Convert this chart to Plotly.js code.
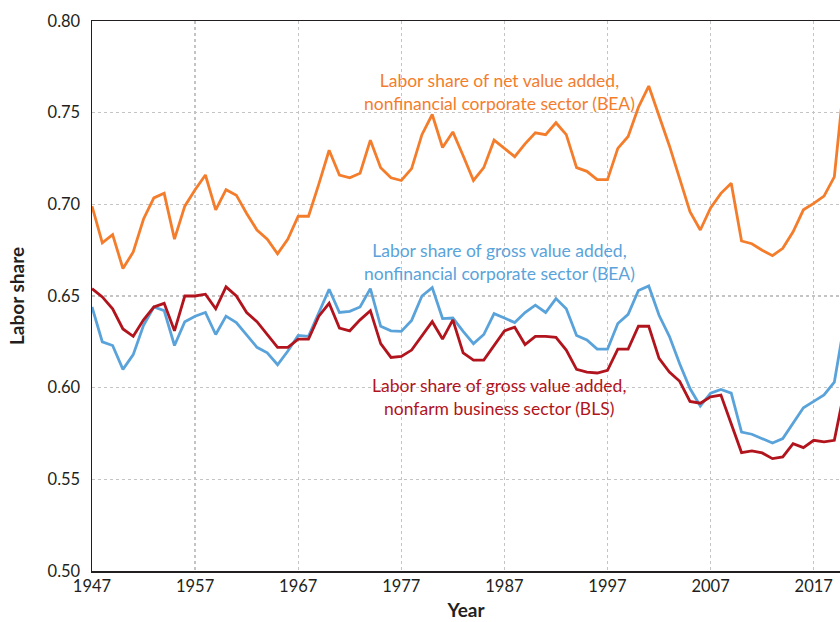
<!DOCTYPE html>
<html>
<head>
<meta charset="utf-8">
<script src="https://cdn.plot.ly/plotly-3.0.1.min.js"></script>
<style>html,body{margin:0;padding:0;background:#fff;}#chart{width:840px;height:622px;}</style>
</head>
<body>
<div id="chart"></div>
<script>
const startYear = 1947;
const endYear = 2020;
const years = [];
for (let y = startYear; y <= endYear; y++) years.push(y);

const netBEA = [
  0.699, 0.679, 0.6835, 0.665, 0.674, 0.692, 0.7035, 0.706, 0.681, 0.699,
  0.708, 0.716, 0.697, 0.708, 0.705, 0.695, 0.686, 0.681, 0.673, 0.681,
  0.6935, 0.6935, 0.711, 0.7295, 0.716, 0.7145, 0.717, 0.735, 0.720, 0.7145,
  0.713, 0.7195, 0.738, 0.749, 0.731, 0.7395, 0.7265, 0.713, 0.720, 0.735,
  0.7305, 0.726, 0.733, 0.739, 0.738, 0.7445, 0.738, 0.720, 0.718, 0.7135,
  0.7135, 0.7305, 0.737, 0.753, 0.7645, 0.7485, 0.732, 0.714, 0.696, 0.686,
  0.698, 0.706, 0.7115, 0.680, 0.6785, 0.675, 0.672, 0.676, 0.685, 0.697,
  0.7005, 0.7045, 0.715, 0.770
];

const grossBEA = [
  0.644, 0.625, 0.623, 0.610, 0.618, 0.634, 0.644, 0.642, 0.623, 0.636,
  0.639, 0.641, 0.629, 0.639, 0.6355, 0.629, 0.622, 0.619, 0.6125, 0.620,
  0.6285, 0.628, 0.641, 0.6537, 0.641, 0.6416, 0.644, 0.654, 0.6335, 0.631,
  0.6307, 0.6367, 0.650, 0.6546, 0.6377, 0.638, 0.6307, 0.624, 0.629, 0.6404,
  0.638, 0.6355, 0.641, 0.645, 0.641, 0.6486, 0.643, 0.6285, 0.626, 0.621,
  0.621, 0.635, 0.640, 0.653, 0.6555, 0.6395, 0.628, 0.613, 0.5995, 0.590,
  0.597, 0.599, 0.597, 0.5758, 0.5746, 0.5722, 0.5698, 0.5722, 0.5804, 0.589,
  0.5925, 0.596, 0.603, 0.636
];

const grossBLS = [
  0.654, 0.6495, 0.643, 0.632, 0.628, 0.637, 0.644, 0.646, 0.631, 0.650,
  0.650, 0.651, 0.643, 0.655, 0.650, 0.641, 0.636, 0.629, 0.622, 0.622,
  0.6265, 0.6265, 0.639, 0.646, 0.6325, 0.631, 0.637, 0.642, 0.624, 0.6165,
  0.617, 0.6205, 0.6285, 0.636, 0.6265, 0.637, 0.619, 0.615, 0.615, 0.623,
  0.631, 0.633, 0.6235, 0.628, 0.628, 0.6275, 0.6205, 0.610, 0.6085, 0.608,
  0.6095, 0.621, 0.621, 0.6335, 0.6335, 0.616, 0.6085, 0.6035, 0.5925, 0.5915,
  0.595, 0.596, 0.580, 0.5646, 0.5655, 0.5644, 0.5613, 0.5622, 0.5695, 0.5673,
  0.5713, 0.5704, 0.5713, 0.599
];

const xTickVals = [1947, 1957, 1967, 1977, 1987, 1997, 2007, 2017];
const yTickVals = [0.50, 0.55, 0.60, 0.65, 0.70, 0.75, 0.80];

const labelNet = "Labor share of net value added,<br>nonfinancial corporate sector (BEA)";
const labelGrossBEA = "Labor share of gross value added,<br>nonfinancial corporate sector (BEA)";
const labelGrossBLS = "Labor share of gross value added,<br>nonfarm business sector (BLS)";

const cOrange = "#f47d2c";
const cBlue = "#5aa3da";
const cRed = "#b1141c";
const FONT = "Lato, 'Open Sans', sans-serif";

const traces = [
  {x: years, y: grossBEA, type: "scatter", mode: "lines", line: {color: cBlue, width: 2.8}, hoverinfo: "skip"},
  {x: years, y: grossBLS, type: "scatter", mode: "lines", line: {color: cRed, width: 2.8}, hoverinfo: "skip"},
  {x: years, y: netBEA, type: "scatter", mode: "lines", line: {color: cOrange, width: 2.8}, hoverinfo: "skip"}
];

function label(text, yMid, color) {
  return {
    text: text, x: 1986.5, y: yMid, xref: "x", yref: "y",
    showarrow: false, xanchor: "center", yanchor: "middle", align: "center",
    font: {family: FONT, size: 17.5, color: color}
  };
}

const layout = {
  width: 840, height: 622,
  margin: {l: 92, r: 0, t: 21, b: 51},
  paper_bgcolor: "#fff", plot_bgcolor: "#fff",
  showlegend: false,
  font: {family: FONT, size: 16, color: "#231f20"},
  xaxis: {
    range: [1947, 2019.55],
    tickvals: xTickVals,
    ticktext: xTickVals.map(String),
    showgrid: true, gridcolor: "#c4c4c4", griddash: "dot", gridwidth: 1.3,
    showline: true, linecolor: "#231f20", linewidth: 1.5, mirror: true,
    ticks: "", zeroline: false,
    tickfont: {family: FONT, size: 16.5, color: "#231f20"},
    title: {text: "<b>Year</b>", font: {family: FONT, size: 19, color: "#231f20"}, standoff: 8}
  },
  yaxis: {
    range: [0.50, 0.80],
    tickvals: yTickVals,
    tickformat: ".2f",
    showgrid: true, gridcolor: "#c4c4c4", griddash: "dot", gridwidth: 1.3,
    showline: true, linecolor: "#231f20", linewidth: 1.5,
    ticks: "", zeroline: false,
    ticklabelstandoff: 7,
    tickfont: {family: FONT, size: 16.5, color: "#231f20"},
    title: {text: "<b>Labor share</b>", font: {family: FONT, size: 19, color: "#231f20"}, standoff: 18}
  },
  annotations: [
    label(labelNet, 0.7614, cOrange),
    label(labelGrossBEA, 0.6683, cBlue),
    label(labelGrossBLS, 0.5947, cRed)
  ]
};

Plotly.newPlot("chart", traces, layout, {displayModeBar: false, staticPlot: true});
</script>
</body>
</html>
